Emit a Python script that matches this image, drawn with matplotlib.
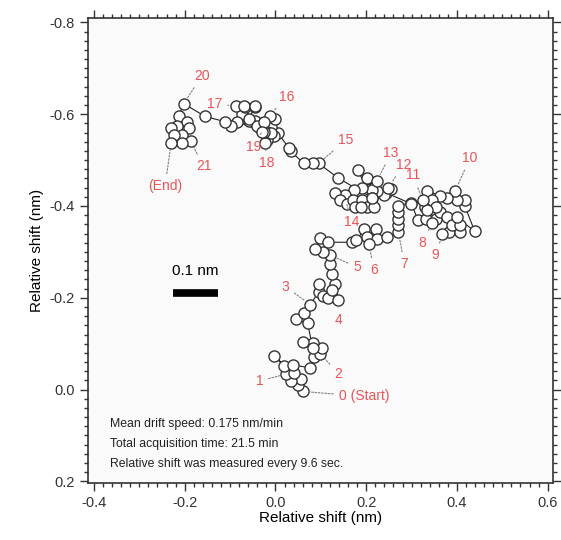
import matplotlib.pyplot as plt
from matplotlib.ticker import MultipleLocator

# drift trajectory (nm), one point every 9.6 s
drift_x = [
    0.060, 0.049, 0.056, 0.034, 0.024, 0.041,
    -0.004, 0.019, 0.039, 0.077, 0.084, 0.099,
    0.103, 0.082, 0.060, 0.082, 0.071, 0.045, 0.062,
    0.077, 0.095, 0.095, 0.105, 0.116, 0.131, 0.138, 0.125,
    0.125, 0.120, 0.120, 0.105, 0.088, 0.099, 0.116,
    0.168, 0.178, 0.196, 0.221, 0.202, 0.224, 0.206,
    0.245, 0.271, 0.271, 0.271, 0.271, 0.271,
    0.299, 0.314, 0.331, 0.329, 0.353, 0.346,
    0.363, 0.378, 0.383, 0.406, 0.389, 0.368,
    0.406, 0.400, 0.439, 0.417, 0.417, 0.400, 0.396,
    0.378, 0.363, 0.335, 0.346, 0.353, 0.335, 0.325,
    0.299, 0.243, 0.254, 0.239, 0.224, 0.249,
    0.213, 0.202, 0.181, 0.213, 0.191, 0.224,
    0.174, 0.153, 0.131, 0.142, 0.157, 0.170, 0.176, 0.191, 0.202, 0.217, 0.189,
    0.213, 0.138, 0.095, 0.082, 0.062, 0.034, 0.030,
    0.006, -0.004, -0.019, -0.009, -0.002, -0.013,
    -0.030, -0.045, -0.058, -0.073, -0.045, -0.067, -0.088,
    -0.069, -0.045, -0.058, -0.034, -0.019, -0.022,
    -0.009, -0.026, -0.041, -0.026, -0.030,
    -0.084, -0.099, -0.112, -0.155, -0.202,
    -0.213, -0.196, -0.217, -0.191, -0.206, -0.187,
    -0.230, -0.224, -0.206, -0.230,
]
drift_y = [
    0.004, -0.011, -0.024, -0.019, -0.034, -0.037,
    -0.073, -0.052, -0.054, -0.047, -0.071, -0.078,
    -0.091, -0.101, -0.103, -0.091, -0.144, -0.153, -0.166,
    -0.185, -0.213, -0.231, -0.203, -0.200, -0.231, -0.196, -0.218,
    -0.252, -0.274, -0.293, -0.300, -0.306, -0.330, -0.321,
    -0.321, -0.325, -0.349, -0.349, -0.332, -0.328, -0.317,
    -0.332, -0.343, -0.358, -0.371, -0.386, -0.401,
    -0.407, -0.369, -0.371, -0.397, -0.371, -0.364,
    -0.386, -0.375, -0.343, -0.343, -0.358, -0.338,
    -0.358, -0.375, -0.345, -0.401, -0.414, -0.414, -0.433,
    -0.418, -0.422, -0.433, -0.414, -0.397, -0.392, -0.412,
    -0.405, -0.429, -0.437, -0.425, -0.433, -0.440,
    -0.435, -0.461, -0.478, -0.418, -0.440, -0.455,
    -0.435, -0.425, -0.429, -0.412, -0.405, -0.412, -0.397, -0.412, -0.397, -0.397, -0.397,
    -0.418, -0.461, -0.493, -0.493, -0.493, -0.519, -0.526,
    -0.558, -0.552, -0.543, -0.573, -0.590, -0.597,
    -0.580, -0.586, -0.586, -0.601, -0.616, -0.616, -0.618,
    -0.618, -0.618, -0.590, -0.569, -0.562, -0.537,
    -0.558, -0.562, -0.575, -0.584, -0.562,
    -0.584, -0.575, -0.584, -0.595, -0.623,
    -0.597, -0.584, -0.575, -0.569, -0.554, -0.541,
    -0.569, -0.554, -0.537, -0.537,
]

# minute markers: text and the trajectory point they refer to
minute_labels = ["0 (Start)", "1", "2", "3", "4", "5", "6", "7", "8", "9", "10",
                 "11", "12", "13", "14", "15", "16", "17", "18", "19", "20", "21", "(End)"]
minute_index = [0, 4, 11, 19, 25, 29, 40, 42, 52, 58, 65,
                72, 78, 84, 89, 98, 108, 115, 121, 126, 131, 137, 141]
# label offsets from the point, in pixels
label_dx = [36, -27, 18, -25, 0, 27, 5, 6, -10, -7, 15, -10, 15, 14, 5, 27, 17, -21, 1, -8, 18, 13, -6]
label_dy = [-5, -7, -20, 18, -20, -12, -26, -32, -20, -21, 33, 25, 23, 28, -18, 23, 19, 2, -20, -15, 28, -25, -43]

info_lines = [
    "Mean drift speed: 0.175 nm/min",
    "Total acquisition time: 21.5 min",
    "Relative shift was measured every 9.6 sec.",
]

plt.rcParams["font.family"] = ["Liberation Sans", "DejaVu Sans"]

fig = plt.figure(figsize=(5.61, 5.40), dpi=100)
ax = fig.add_axes([0.157, 0.106, 0.829, 0.861])
ax.set_facecolor("#fafafa")

ax.plot(drift_x, drift_y, "-", color="#222222", lw=0.8, zorder=2)
ax.plot(drift_x, drift_y, "o", ms=8.0, mfc="white", mec="#333333", mew=1.0,
        ls="none", zorder=3)

red = "#e8555a"
for text, idx, dx, dy in zip(minute_labels, minute_index, label_dx, label_dy):
    ha = "left" if text == "0 (Start)" else "center"
    ax.annotate(text, xy=(drift_x[idx], drift_y[idx]), xytext=(dx, dy),
                textcoords="offset pixels", ha=ha, va="center",
                color=red, fontsize=10, zorder=4,
                arrowprops=dict(arrowstyle="-", color="#808080", lw=0.8,
                                ls=(0, (1.5, 1.5)), shrinkA=2, shrinkB=5))

# scale bar
ax.plot([-0.226, -0.126], [-0.21, -0.21], color="black", lw=5.5,
        solid_capstyle="butt")
ax.text(-0.176, -0.258, "0.1 nm", ha="center", va="center", fontsize=11)

for i, line in enumerate(info_lines):
    ax.text(0.047, 0.127 - i * 0.043, line, transform=ax.transAxes,
            fontsize=8.8, va="center", ha="left", color="#222222")

ax.set_xlim(-0.413, 0.612)
ax.set_ylim(0.203, -0.81)
ax.xaxis.set_major_locator(MultipleLocator(0.2))
ax.xaxis.set_minor_locator(MultipleLocator(0.02))
ax.yaxis.set_major_locator(MultipleLocator(0.2))
ax.yaxis.set_minor_locator(MultipleLocator(0.02))
ax.xaxis.set_major_formatter(lambda v, p: f"{v:.1f}".replace("-0.0", "0.0"))
ax.yaxis.set_major_formatter(lambda v, p: f"{v:.1f}".replace("-0.0", "0.0"))
ax.tick_params(which="both", direction="out", top=True, right=True,
               labelsize=10.5, colors="#333333", width=1.0)
ax.tick_params(which="major", length=6)
ax.tick_params(which="minor", length=3)
for s in ax.spines.values():
    s.set_linewidth(1.2)
    s.set_color("#333333")

ax.set_xlabel("Relative shift (nm)", fontsize=11, labelpad=1)
ax.set_ylabel("Relative shift (nm)", fontsize=11, labelpad=4)

fig.savefig("out.png", dpi=100, facecolor="white")
